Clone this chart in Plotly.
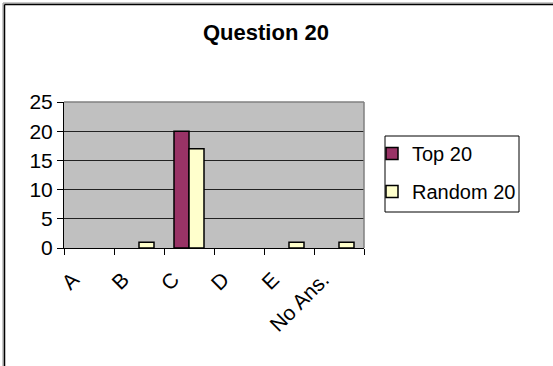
import plotly.graph_objects as go

# Answer counts for question 20
categories = ["A", "B", "C", "D", "E", "No Ans."]
top20 = [0, 0, 20, 0, 0, 0]
random20 = [0, 1, 17, 0, 1, 1]
y_ticks = [0, 5, 10, 15, 20, 25]

series = [
    ("Top 20", top20, "#993366"),
    ("Random 20", random20, "#FFFFCC"),
]

W, H = 553, 366
L, R, T, B = 64, 189, 102, 118
pw, ph = W - L - R, H - T - B


def px_x(px):
    return (px - L) / pw


def px_y(py):
    return (H - B - py) / ph


def outline_widths(values):
    # empty categories get no visible outline
    return [1.5 if v else 0 for v in values]


font = "Liberation Sans, Arial, sans-serif"

fig = go.Figure()
for i, (name, values, color) in enumerate(series):
    fig.add_trace(go.Bar(
        x=categories, y=values, name=name, showlegend=False,
        legendgroup=str(i), offsetgroup=str(i),
        marker=dict(color=color,
                    line=dict(color="black", width=outline_widths(values))),
    ))
for i, (name, values, color) in enumerate(series):
    # legend swatches with a uniform outline
    fig.add_trace(go.Bar(
        x=[None], y=[None], name=name, legendgroup=str(i),
        marker=dict(color=color, line=dict(color="black", width=1.5)),
    ))

fig.update_layout(
    width=W, height=H,
    margin=dict(l=L, r=R, t=T, b=B),
    paper_bgcolor="white",
    plot_bgcolor="#C0C0C0",
    barmode="group",
    bargap=0.4,
    bargroupgap=0,
    font=dict(family=font, size=20, color="black"),
    showlegend=True,
    legend=dict(
        x=px_x(372), y=px_y(134), xanchor="left", yanchor="top",
        borderwidth=0, bgcolor="rgba(0,0,0,0)",
        font=dict(size=20), tracegroupgap=9, traceorder="grouped",
    ),
    xaxis=dict(
        type="category", tickangle=-45,
        showline=True, linecolor="black", linewidth=1,
        ticks="outside", ticklen=6, tickcolor="black",
        tickson="boundaries", showgrid=False,
        tickfont=dict(size=21),
        ticklabelstandoff=10, ticklabelshift=-16,
    ),
    yaxis=dict(
        range=[0, 25], tickvals=y_ticks,
        showline=True, linecolor="black", linewidth=1,
        ticks="outside", ticklen=6, tickcolor="black",
        showgrid=True, gridcolor="#222222", gridwidth=1,
        zeroline=False, tickfont=dict(size=21),
    ),
    annotations=[dict(
        text="<b>Question 20</b>", x=px_x(266), y=px_y(32),
        xref="paper", yref="paper", showarrow=False,
        font=dict(size=22), xanchor="center", yanchor="middle",
    )],
    shapes=[
        # plot-area outline on the top and right
        dict(type="line", xref="paper", yref="paper", x0=0, x1=1, y0=1, y1=1,
             line=dict(color="#808080", width=1.5)),
        dict(type="line", xref="paper", yref="paper", x0=1, x1=1, y0=0, y1=1,
             line=dict(color="#808080", width=1.5)),
        # legend box
        dict(type="rect", xref="paper", yref="paper", layer="below",
             x0=px_x(385), x1=px_x(519), y0=px_y(212), y1=px_y(136),
             line=dict(color="black", width=1), fillcolor="white"),
        # chart frame with a soft grey edge
        dict(type="line", xref="paper", yref="paper",
             x0=px_x(3), x1=px_x(3), y0=px_y(3), y1=px_y(372),
             line=dict(color="#909090", width=1)),
        dict(type="line", xref="paper", yref="paper",
             x0=px_x(3), x1=px_x(560), y0=px_y(3), y1=px_y(3),
             line=dict(color="#909090", width=1)),
        dict(type="line", xref="paper", yref="paper",
             x0=px_x(4.5), x1=px_x(4.5), y0=px_y(4.5), y1=px_y(372),
             line=dict(color="black", width=1.5)),
        dict(type="line", xref="paper", yref="paper",
             x0=px_x(4.5), x1=px_x(560), y0=px_y(4.5), y1=px_y(4.5),
             line=dict(color="black", width=1.5)),
    ],
)

fig.write_html("out.html")
